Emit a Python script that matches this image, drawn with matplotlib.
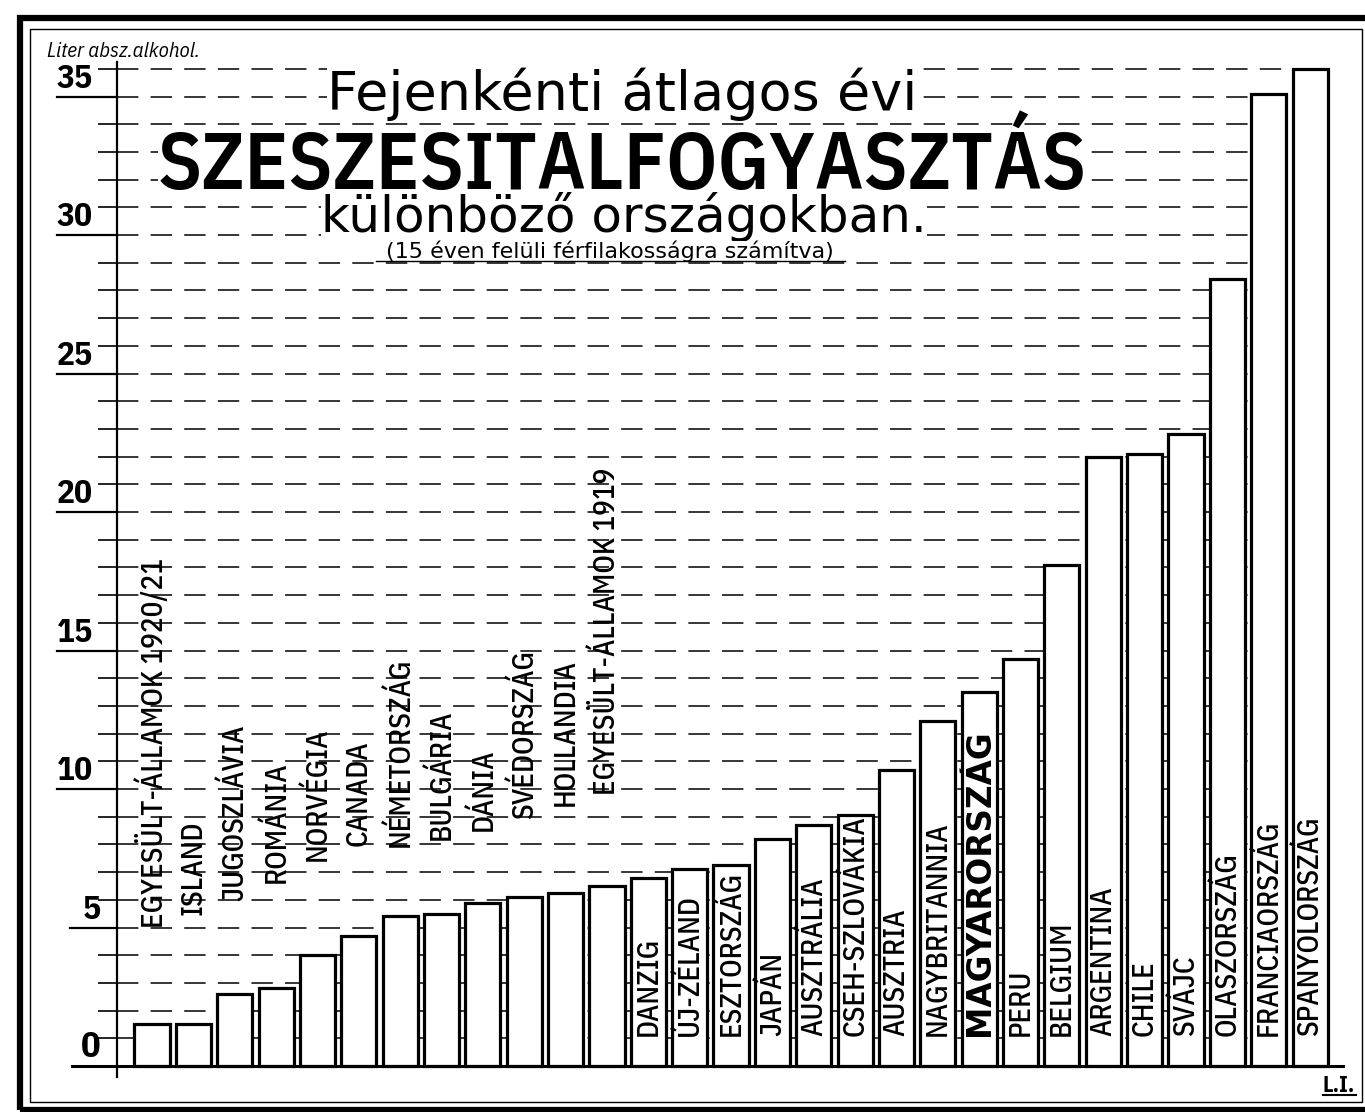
import matplotlib.pyplot as plt
from matplotlib.patches import Rectangle

countries = [
    "EGYESÜLT-ÁLLAMOK 1920/21", "ISLAND", "JUGOSZLÁVIA", "ROMÁNIA", "NORVÉGIA",
    "CANADA", "NÉMETORSZÁG", "BULGÁRIA", "DÁNIA", "SVÉDORSZÁG", "HOLLANDIA",
    "EGYESÜLT-ÁLLAMOK 1919", "DANZIG", "ÚJ-ZÉLAND", "ESZTORSZÁG", "JAPÁN",
    "AUSZTRÁLIA", "CSEH-SZLOVÁKIA", "AUSZTRIA", "NAGYBRITANNIA", "MAGYARORSZÁG",
    "PERU", "BELGIUM", "ARGENTINA", "CHILE", "SVÁJC", "OLASZORSZÁG",
    "FRANCIAORSZÁG", "SPANYOLORSZÁG",
]
# liter absolute alcohol per head (men over 15)
consumption = [
    1.5, 1.5, 2.6, 2.8, 4.0, 4.7, 5.4, 5.5, 5.9, 6.1, 6.25, 6.5,
    6.8, 7.1, 7.25, 8.2, 8.7, 9.05, 10.7, 12.45, 13.5, 14.7,
    18.1, 22.0, 22.1, 22.8, 28.4, 35.1, 36.0,
]
y_labels = [0, 5, 10, 15, 20, 25, 30, 35]

# where the country names start (first 12 stand above their bars)
label_base = [5.0, 5.45, 5.95, 6.6, 7.4, 7.95, 7.9, 8.15, 8.5, 8.9, 9.4, 9.8] + [1.1] * 17

W, H = 1365, 1112
COND = ['IBM Plex Sans Condensed', 'DejaVu Sans']


def fx(px):
    return px / W


def fy(py):
    return 1 - py / H


def dx(px):
    # pixel column -> bar index coordinate
    return (px - 152) / 41.36


fig = plt.figure(figsize=(W / 100, H / 100), dpi=100, facecolor='white')
ax = fig.add_axes([fx(117), fy(1077), fx(1343) - fx(117), fy(62) - fy(1077)])
ax.set_xlim(dx(117), dx(1343))
ax.set_ylim(-11 / 27.7, (1066 - 62) / 27.7)
ax.set_facecolor('white')

for s in ['top', 'right', 'bottom']:
    ax.spines[s].set_visible(False)
ax.spines['left'].set_linewidth(1.6)
ax.set_xticks([])
ax.set_yticks(range(0, 37))
ax.set_yticklabels([])
ax.tick_params(axis='y', direction='out', length=14, width=1.2)

# dashed rulings every litre
ax.hlines(range(1, 37), dx(117), dx(1328), colors='black', linewidth=1.1,
          linestyles=(0, (14, 8)), zorder=1)
ax.plot([dx(72), dx(1343)], [0, 0], color='black', lw=2.2, clip_on=False, zorder=4)

x = list(range(len(countries)))
ax.bar(x, consumption, width=0.85, color='white', edgecolor='black',
       linewidth=2.3, zorder=3)

# y labels, underlined
for v in y_labels:
    right = 93 if v >= 10 else 101
    ax.text(dx(right), v + 0.06, str(v), ha='right', va='bottom',
            fontsize=26 if v == 0 else 24, fontweight='bold', family=COND, clip_on=False)
    if v > 0:
        left = 57 if v >= 10 else 70
        ax.plot([dx(left), dx(117)], [v, v], color='black', lw=1.6, clip_on=False)

for i, (name, base) in enumerate(zip(countries, label_base)):
    if name == "MAGYARORSZÁG":
        ax.text(i, base, name, rotation=90, ha='center', va='bottom',
                fontsize=23.5, fontweight='bold', family='DejaVu Sans', zorder=5)
    else:
        ax.text(i, base, name, rotation=90, ha='center', va='bottom',
                fontsize=21, fontweight=500, family=COND, zorder=5)

white = dict(facecolor='white', edgecolor='none', pad=0)
fig.text(fx(47), fy(57), "Liter absz.alkohol.", style='italic', fontsize=15,
         family=COND, va='baseline')
fig.text(fx(622), fy(110), "Fejenkénti átlagos évi", ha='center', va='baseline',
         fontsize=39, family='DejaVu Sans', bbox=white)
fig.text(fx(622), fy(189), "SZESZESITALFOGYASZTÁS", ha='center', va='baseline',
         fontsize=58, fontweight=600, family=COND, bbox=white)
fig.text(fx(624), fy(232), "különböző országokban.", ha='center', va='baseline',
         fontsize=36, family='DejaVu Sans', bbox=white)
fig.text(fx(610), fy(258), "(15 éven felüli férfilakosságra számítva)",
         ha='center', va='baseline', fontsize=16, family='DejaVu Sans', bbox=white)
fig.lines.append(plt.Line2D([fx(376), fx(845)], [fy(261), fy(261)],
                            transform=fig.transFigure, color='black', lw=1, zorder=6))

fig.text(fx(1355), fy(1092), "L.I.", ha='right', va='baseline', fontsize=16,
         fontweight='bold', family=COND)
fig.lines.append(plt.Line2D([fx(1323), fx(1356)], [fy(1095), fy(1095)],
                            transform=fig.transFigure, color='black', lw=1.5))

# double frame round the sheet
fig.patches.append(Rectangle((fx(20), fy(1110)), fx(1370) - fx(20), fy(18) - fy(1110),
                             transform=fig.transFigure, fill=False, lw=4.5, ec='black'))
fig.patches.append(Rectangle((fx(30), fy(1102)), fx(1362) - fx(30), fy(29) - fy(1102),
                             transform=fig.transFigure, fill=False, lw=1.0, ec='black'))

fig.savefig('out.png', dpi=100, facecolor='white')
